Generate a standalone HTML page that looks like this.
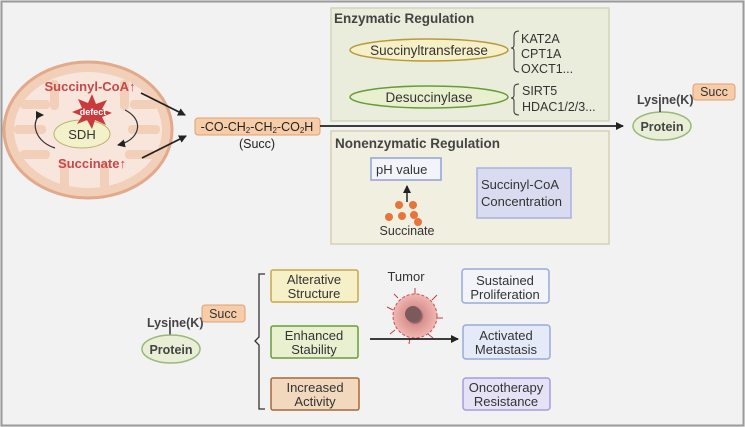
<!DOCTYPE html>
<html><head><style>body{margin:0;background:#f2f2f2}svg{display:block;font-family:"Liberation Sans",sans-serif}</style></head><body>
<svg width="745" height="427" viewBox="0 0 745 427">
<defs><marker id="a" markerWidth="8" markerHeight="8" refX="7" refY="4" orient="auto" markerUnits="userSpaceOnUse"><path d="M0,0 L8,4 L0,8z" fill="#222"/></marker>
<radialGradient id="t"><stop offset="0.3" stop-color="#8a6060"/><stop offset="0.4" stop-color="#d99090"/><stop offset="1" stop-color="#f0b8b0"/></radialGradient></defs>
<rect x="1.5" y="1.5" width="742" height="424" fill="#f2f2f2" stroke="#9a9a9a" stroke-width="2"/>
<!-- mitochondrion -->
<ellipse cx="88" cy="130" rx="84" ry="68" fill="#f2cfb8" stroke="#e2a98a" stroke-width="3"/>
<ellipse cx="88" cy="130" rx="74" ry="58" fill="#f8e6dc"/>
<g fill="#f2cfb8">
<rect x="20" y="100" width="30" height="9" rx="4"/><rect x="14" y="125" width="32" height="9" rx="4"/><rect x="20" y="150" width="30" height="9" rx="4"/>
<rect x="50" y="80" width="9" height="30" rx="4"/><rect x="120" y="80" width="9" height="30" rx="4"/><rect x="128" y="125" width="32" height="9" rx="4"/>
<rect x="125" y="150" width="30" height="9" rx="4"/><rect x="60" y="160" width="9" height="30" rx="4"/><rect x="100" y="162" width="9" height="30" rx="4"/><rect x="130" y="100" width="28" height="9" rx="4"/>
</g>
<text x="90" y="91" font-size="13" font-weight="bold" fill="#c8474a" text-anchor="middle">Succinyl-CoA↑</text>
<ellipse cx="82" cy="134" rx="28" ry="14" fill="#f3f1c9" stroke="#b9b36a"/>
<text x="82" y="139" font-size="13" fill="#333" text-anchor="middle">SDH</text>
<polygon points="92,94 96,104 107,100 102,109 112,113 102,117 106,125 95,120 92,129 87,120 77,124 82,116 72,112 82,108 78,99 88,103" fill="#c83a3c"/>
<text x="93" y="115" font-size="9" font-weight="bold" fill="#fff" text-anchor="middle">defect</text>
<text x="92" y="168" font-size="13" font-weight="bold" fill="#c8474a" text-anchor="middle">Succinate↑</text>
<path d="M55,148 C30,140 32,115 43,115" fill="none" stroke="#333" stroke-width="1.2" marker-end="url(#a)"/>
<path d="M125,110 C145,120 140,140 118,145" fill="none" stroke="#333" stroke-width="1.2" marker-end="url(#a)"/>
<line x1="141" y1="93" x2="185" y2="115" stroke="#222" stroke-width="1.8" marker-end="url(#a)"/>
<line x1="142" y1="158" x2="186" y2="136" stroke="#222" stroke-width="1.8" marker-end="url(#a)"/>
<rect x="195" y="118" width="125" height="17" rx="3" fill="#f6cda8" stroke="#e2a070"/>
<text x="257" y="131" font-size="12.5" fill="#222" text-anchor="middle">-CO-CH<tspan font-size="8" dy="2">2</tspan><tspan dy="-2">-CH</tspan><tspan font-size="8" dy="2">2</tspan><tspan dy="-2">-CO</tspan><tspan font-size="8" dy="2">2</tspan><tspan dy="-2">H</tspan></text>
<text x="257" y="148" font-size="12.5" fill="#222" text-anchor="middle">(Succ)</text>
<!-- enzymatic -->
<rect x="331" y="8" width="278" height="113" fill="#eaeddb" stroke="#cfd6b8" stroke-width="1.5"/>
<text x="334" y="23" font-size="13.5" font-weight="bold" fill="#444">Enzymatic Regulation</text>
<ellipse cx="429" cy="50" rx="79" ry="11" fill="#f5f0c8" stroke="#b99a3a" stroke-width="1.5"/>
<text x="429" y="55" font-size="13.5" fill="#333" text-anchor="middle">Succinyltransferase</text>
<ellipse cx="429" cy="97" rx="79" ry="11" fill="#e8f0d0" stroke="#6a9a3a" stroke-width="1.5"/>
<text x="429" y="102" font-size="13.5" fill="#333" text-anchor="middle">Desuccinylase</text>
<path d="M519,31 Q514,31 514,36 L514,45 Q514,48 511,48 Q514,48 514,51 L514,67 Q514,72 519,72" fill="none" stroke="#333"/>
<path d="M519,84 Q514,84 514,88 L514,95 Q514,98 511,98 Q514,98 514,101 L514,111 Q514,115 519,115" fill="none" stroke="#333"/>
<g font-size="12.5" fill="#333"><text x="521" y="43">KAT2A</text><text x="521" y="58">CPT1A</text><text x="521" y="73">OXCT1...</text><text x="522" y="95">SIRT5</text><text x="522" y="111">HDAC1/2/3...</text></g>
<!-- nonenz -->
<rect x="331" y="131" width="278" height="113" fill="#f1efe0" stroke="#d8d0b0" stroke-width="1.5"/>
<text x="335" y="148" font-size="13.5" font-weight="bold" fill="#444">Nonenzymatic Regulation</text>
<rect x="371" y="158" width="70" height="22" fill="#f2f4fa" stroke="#8ea4d8" stroke-width="1.5"/>
<text x="376" y="174" font-size="13" fill="#333">pH value</text>
<rect x="477" y="168" width="94" height="50" fill="#d9dcf0" stroke="#a8b2e0" stroke-width="1.5"/>
<text x="481" y="189" font-size="13" fill="#333">Succinyl-CoA</text><text x="481" y="206" font-size="13" fill="#333">Concentration</text>
<line x1="407" y1="202" x2="407" y2="186" stroke="#222" stroke-width="1.5" marker-end="url(#a)"/>
<g fill="#e8743a"><circle cx="399" cy="205" r="4"/><circle cx="413" cy="205" r="4"/><circle cx="389" cy="217" r="4"/><circle cx="402" cy="216" r="4"/><circle cx="414" cy="215" r="4"/><circle cx="418" cy="222" r="4"/></g>
<text x="407" y="235" font-size="12.5" fill="#333" text-anchor="middle">Succinate</text>
<line x1="320" y1="126" x2="623" y2="126" stroke="#222" stroke-width="1.8" marker-end="url(#a)"/>
<!-- protein top -->
<ellipse cx="662" cy="126" rx="29" ry="14" fill="#e8efd6" stroke="#9ab878" stroke-width="1.5"/>
<text x="662" y="131" font-size="12.5" font-weight="bold" fill="#444" text-anchor="middle">Protein</text>
<line x1="660" y1="104" x2="660" y2="112" stroke="#333" stroke-width="1.5"/>
<text x="637" y="104" font-size="12.5" font-weight="bold" fill="#444">Lysine(K)</text>
<rect x="693" y="84" width="42" height="16" rx="3" fill="#f6cda8" stroke="#e2a070"/>
<text x="714" y="96" font-size="12.5" fill="#333" text-anchor="middle">Succ</text>
<!-- bottom -->
<text x="147" y="327" font-size="12.5" font-weight="bold" fill="#444">Lysine(K)</text>
<line x1="170" y1="327" x2="170" y2="335" stroke="#333" stroke-width="1.5"/>
<rect x="202" y="305" width="43" height="17" rx="3" fill="#f6cda8" stroke="#e2a070"/>
<text x="223" y="318" font-size="12.5" fill="#333" text-anchor="middle">Succ</text>
<ellipse cx="171" cy="349" rx="29" ry="14" fill="#e8efd6" stroke="#9ab878" stroke-width="1.5"/>
<text x="171" y="354" font-size="12.5" font-weight="bold" fill="#444" text-anchor="middle">Protein</text>
<path d="M265,274 L259,274 L259,337 L255,341 L259,345 L259,409 L265,409" fill="none" stroke="#333" stroke-width="1.3"/>
<g font-size="13" fill="#333" text-anchor="middle">
<rect x="271" y="270" width="87" height="32" rx="2" fill="#f5f0c8" stroke="#c8a848" stroke-width="1.5"/><text x="314" y="284">Alterative</text><text x="314" y="298">Structure</text>
<rect x="271" y="326" width="87" height="32" rx="2" fill="#e8f0d0" stroke="#6a9a3a" stroke-width="1.5"/><text x="314" y="340">Enhanced</text><text x="314" y="354">Stability</text>
<rect x="271" y="378" width="88" height="32" rx="2" fill="#f2d8bc" stroke="#a8683a" stroke-width="1.5"/><text x="315" y="392">Increased</text><text x="315" y="406">Activity</text>
<rect x="462" y="269" width="87" height="34" rx="3" fill="#f2f4fa" stroke="#9aaad8" stroke-width="1.5"/><text x="505" y="285">Sustained</text><text x="505" y="299">Proliferation</text>
<rect x="463" y="325" width="87" height="34" rx="3" fill="#e4eaf8" stroke="#9aaad8" stroke-width="1.5"/><text x="506" y="340">Activated</text><text x="506" y="354">Metastasis</text>
<rect x="463" y="378" width="87" height="32" rx="3" fill="#e6e2f6" stroke="#a89ae0" stroke-width="1.5"/><text x="506" y="392">Oncotherapy</text><text x="506" y="406">Resistance</text>
<text x="406" y="281">Tumor</text>
</g>
<circle cx="415" cy="316" r="22" fill="url(#t)" stroke="#c85050" stroke-width="1" stroke-dasharray="3 2"/>
<g stroke="#c84040" stroke-width="1" fill="none"><path d="M393,310 l-6,-3 M395,330 l-5,4 M410,338 l-1,6 M428,334 l5,4 M437,318 l6,0 M432,300 l5,-5 M415,294 l0,-6 M398,298 l-4,-4"/></g>
<circle cx="413" cy="314" r="8" fill="#7a5a5a"/>
<line x1="370" y1="339" x2="458" y2="339" stroke="#222" stroke-width="1.8" marker-end="url(#a)"/>
</svg>
</body></html>
